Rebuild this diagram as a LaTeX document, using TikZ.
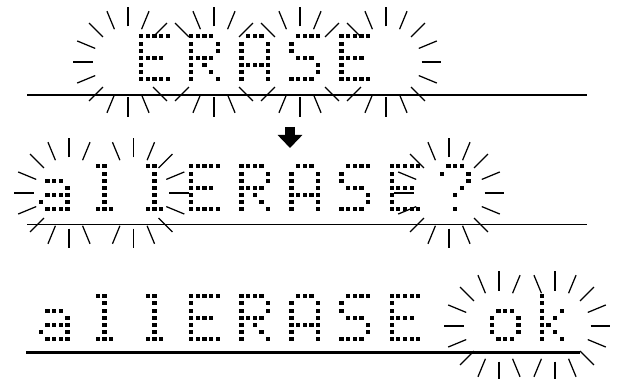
\documentclass[tikz,border=0pt]{standalone}
\usepackage{tikz}
\usetikzlibrary{arrows.meta}

% 5x7 dot patterns, x = lit dot
\def\glE{xxxxx,x----,x----,xxxx-,x----,x----,xxxxx}
\def\glR{xxxx-,x---x,x---x,xxxx-,x-x--,x--x-,x---x}
\def\glA{-xxx-,x---x,x---x,x---x,xxxxx,x---x,x---x}
\def\glS{-xxxx,x----,x----,-xxx-,----x,----x,xxxx-}
\def\gla{-----,-----,-xxx-,----x,-xxxx,x---x,-xxxx}
\def\gll{-xx--,--x--,--x--,--x--,--x--,--x--,-xxx-}
\def\glo{-----,-----,-xxx-,x---x,x---x,x---x,-xxx-}
\def\glk{x----,x----,x--x-,x-x--,xx---,x-x--,x--x-}
\expandafter\def\csname gl?\endcsname{-xxx-,x---x,----x,---x-,--x--,-----,--x--}

\makeatletter
\newcount\lcd@c
\newcommand{\lcdrow}[3]{\lcd@c=0 \def\lcd@x{#1}\def\lcd@y{#2}%
  \expandafter\lcd@scan#3\@nil}
\def\lcd@scan#1{\ifx#1\@nil\else
  \if#1x\fill[lcddot] (\lcd@x+6.67*\the\lcd@c,\lcd@y) rectangle ++(4.3,4.0);\fi
  \advance\lcd@c\@ne
  \expandafter\lcd@scan\fi}
\makeatother

\newcommand{\lcdchar}[3]{% left x, top y, glyph
  \expandafter\let\expandafter\lcdglyph\csname gl#3\endcsname
  \foreach \bits [count=\ry from 0] in \lcdglyph {\lcdrow{#1}{#2+7.1*\ry}{\bits}}}
\newcommand{\lcdtext}[3]{% top y, first cell, glyphs
  \foreach \g [count=\i from #2] in {#3} {\lcdchar{38.8+50.1*\i}{#1}{\g}}}
\newcommand{\burst}[3]{% centre, first angle, rays
  \foreach \k in {1,...,#3}
    \draw[ray] (#1) ++({#2+22.5*(\k-1)}:35.5) -- ++({#2+22.5*(\k-1)}:19.5);}

\begin{document}
\begin{tikzpicture}[x=1pt, y=-1pt,
  lcddot/.style={fill=black},
  ray/.style={line width=1.25pt},
  rule/.style={line width=1.3pt},
  bigarrow/.style={line width=10pt, -{Triangle[length=13pt, width=24pt]}}
]
  \useasboundingbox (0,0) rectangle (620,379);

  % blink centres
  \coordinate (e1) at (128,62);
  \coordinate (e2) at (214,62);
  \coordinate (e3) at (300,62);
  \coordinate (e4) at (386,62);
  \coordinate (q1) at (69,193);
  \coordinate (q2) at (133.5,193);
  \coordinate (q3) at (449,193);
  \coordinate (k1) at (499,326);
  \coordinate (k2) at (555,326);

  % first display: ERASE
  \lcdtext{34.5}{2}{E,R,A,S,E}
  \draw[rule] (27,95) -- (587,95);
  \burst{e1}{45}{13}
  \burst{e2}{45}{5} \burst{e2}{225}{5}
  \burst{e3}{45}{5} \burst{e3}{225}{5}
  \burst{e4}{-135}{13}

  \coordinate (down0) at (290,127);
  \coordinate (down1) at (290,148);
  \draw[bigarrow] (down0) -- (down1);

  % second display: allERASE?
  \lcdtext{164.5}{0}{a,l,l,E,R,A,S,E,?}
  \draw[rule] (27,224.7) -- (587,224.7);
  \burst{q1}{67.5}{11}
  \burst{q2}{-112.5}{11}
  \burst{q3}{0}{16}

  % third display: allERASE ok
  \lcdtext{294.3}{0}{a,l,l,E,R,A,S,E}
  \lcdtext{294.3}{9}{o,k}
  \draw[rule, line width=2.3pt] (26,352.5) -- (580,352.5);
  \burst{k1}{67.5}{11}
  \burst{k2}{-112.5}{11}
\end{tikzpicture}
\end{document}
